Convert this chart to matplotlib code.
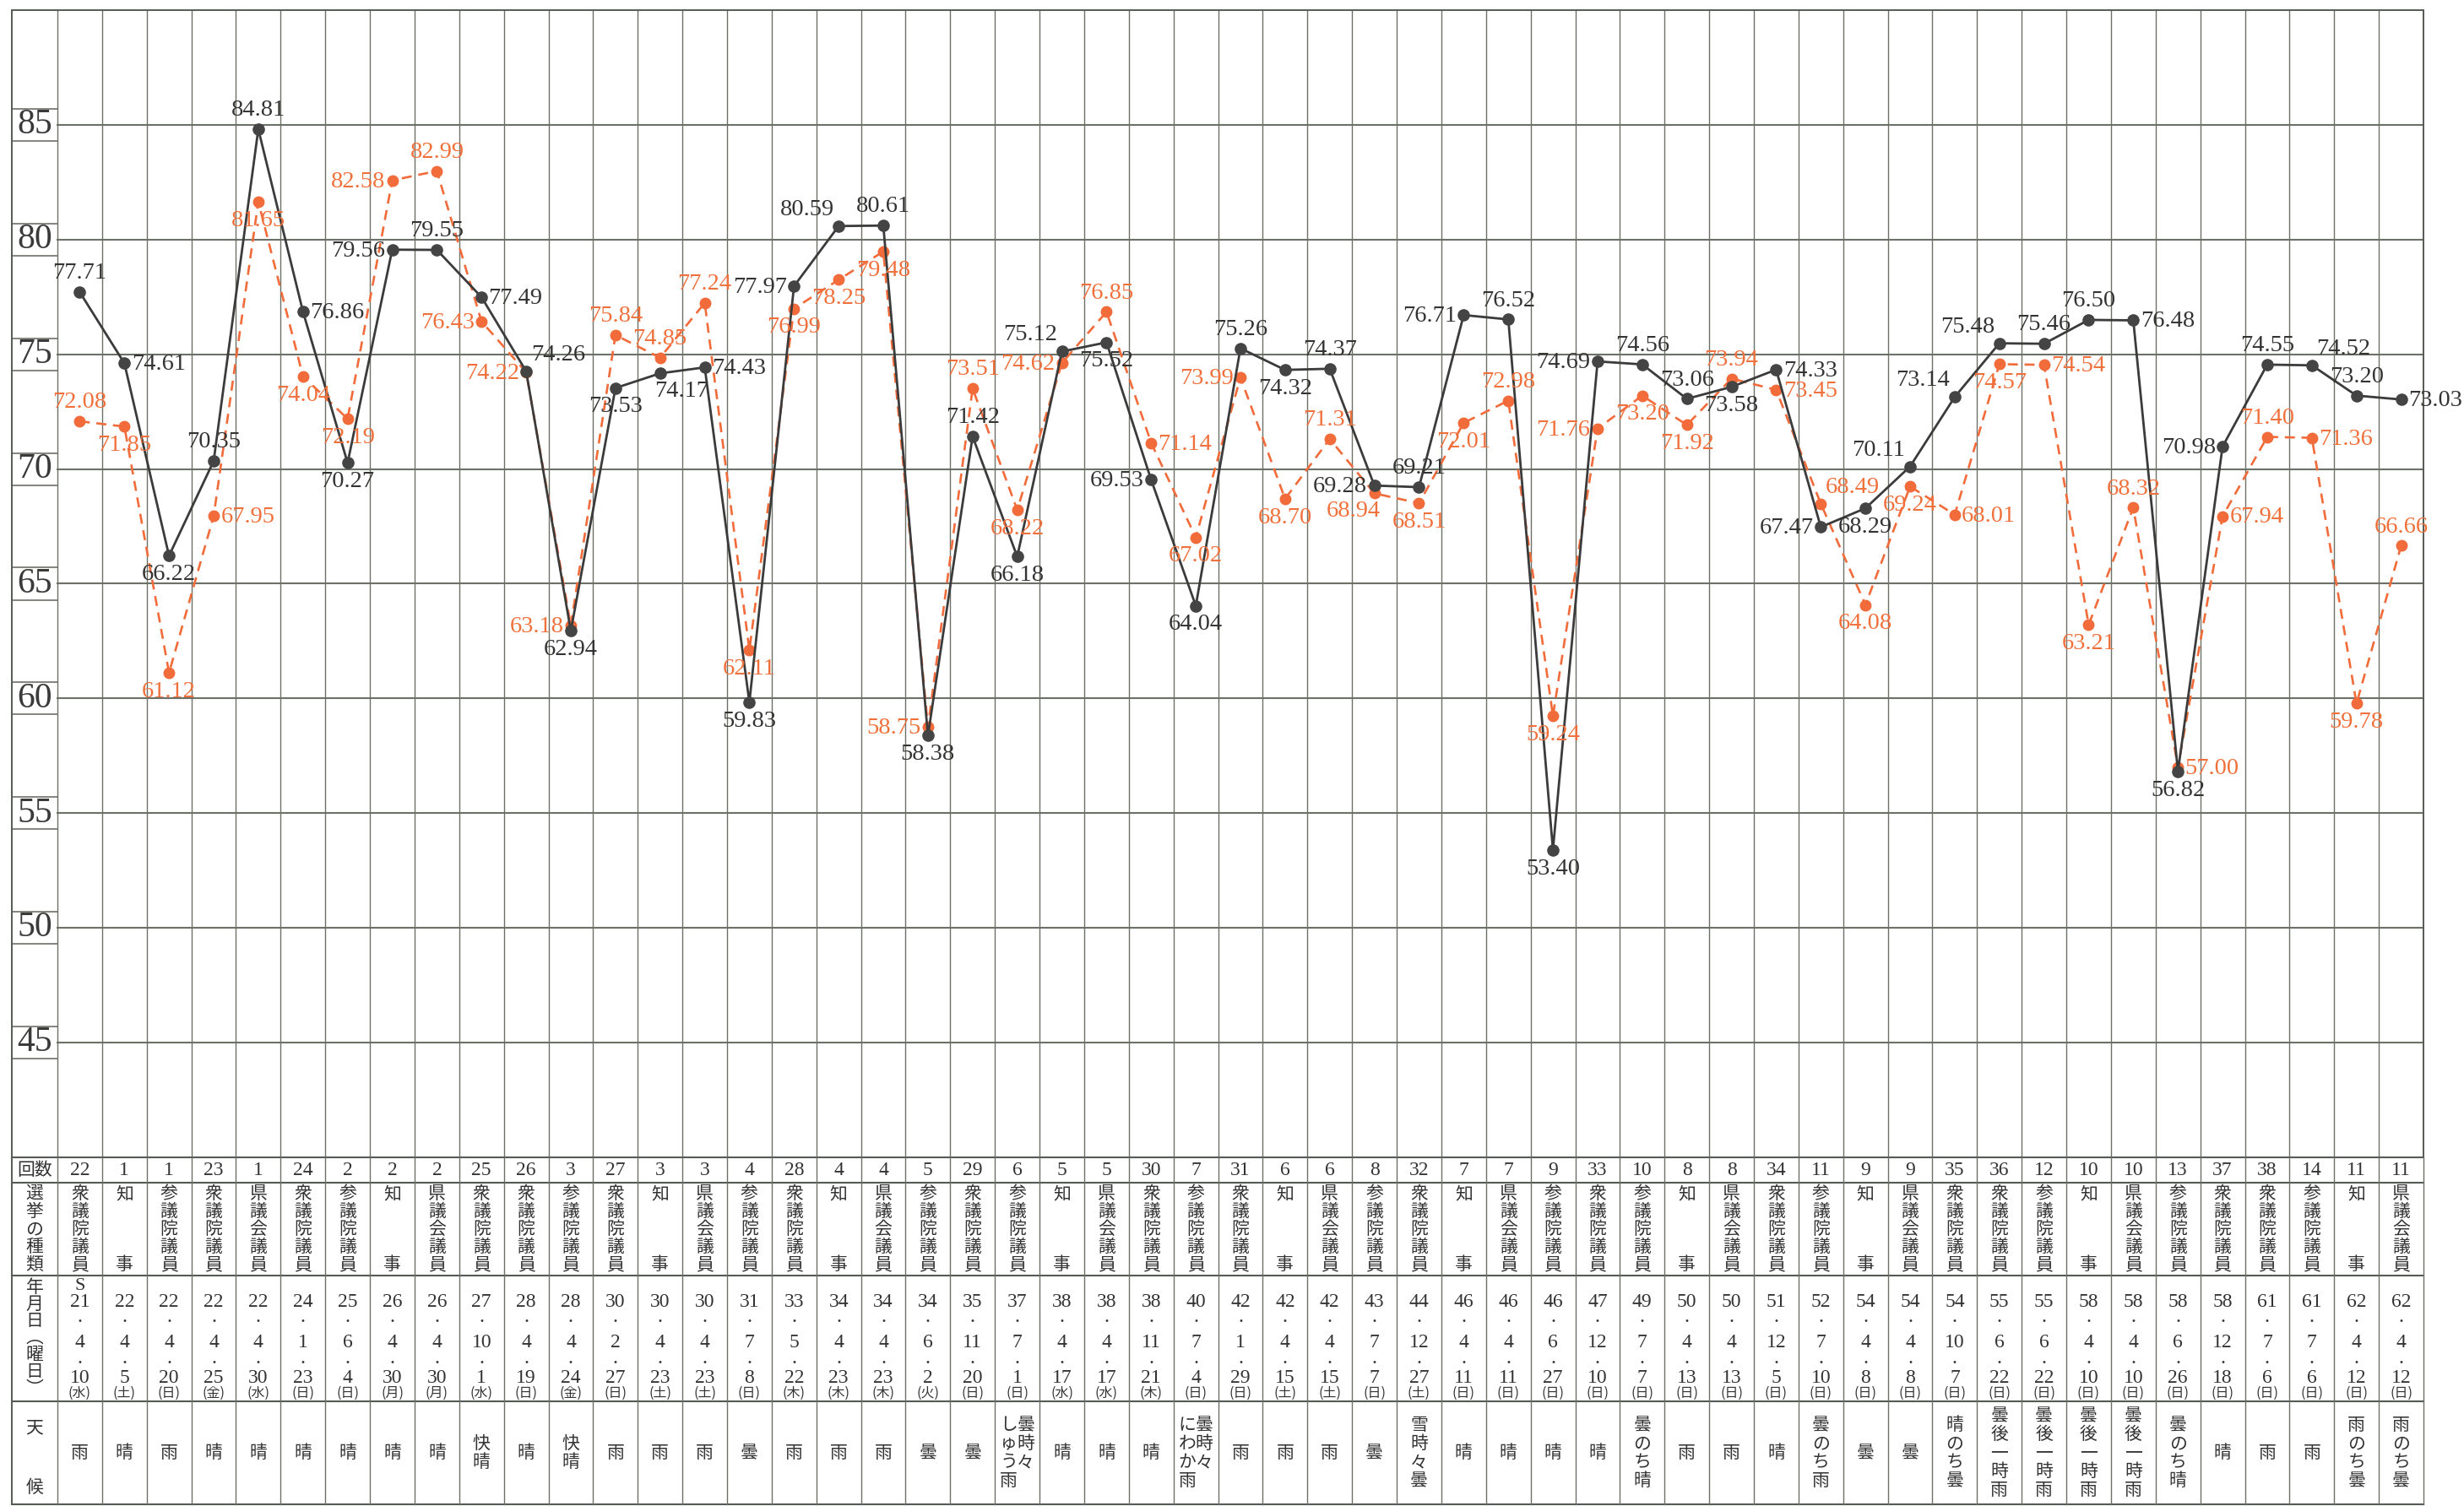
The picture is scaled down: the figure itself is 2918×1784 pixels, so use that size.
import matplotlib
matplotlib.use("Agg")
import matplotlib.pyplot as plt

# ---------------- data ----------------
counts = [22, 1, 1, 23, 1, 24, 2, 2, 2, 25, 26, 3, 27, 3, 3, 4, 28, 4, 4, 5, 29, 6, 5, 5, 30, 7, 31,
          6, 6, 8, 32, 7, 7, 9, 33, 10, 8, 8, 34, 11, 9, 9, 35, 36, 12, 10, 10, 13, 37, 38, 14, 11, 11]
kinds = ["衆", "知", "参", "衆", "県", "衆", "参", "知", "県", "衆", "衆", "参", "衆", "知", "県", "参", "衆",
         "知", "県", "参", "衆", "参", "知", "県", "衆", "参", "衆", "知", "県", "参", "衆", "知", "県", "参",
         "衆", "参", "知", "県", "衆", "参", "知", "県", "衆", "衆", "参", "知", "県", "参", "衆", "衆", "参",
         "知", "県"]
kind_names = {"衆": "衆議院議員", "参": "参議院議員", "知": "知事", "県": "県議会議員"}
years = ["21", "22", "22", "22", "22", "24", "25", "26", "26", "27", "28", "28", "30", "30", "30", "31",
         "33", "34", "34", "34", "35", "37", "38", "38", "38", "40", "42", "42", "42", "43", "44", "46",
         "46", "46", "47", "49", "50", "50", "51", "52", "54", "54", "54", "55", "55", "58", "58", "58",
         "58", "61", "61", "62", "62"]
months = ["4", "4", "4", "4", "4", "1", "6", "4", "4", "10", "4", "4", "2", "4", "4", "7", "5", "4", "4",
          "6", "11", "7", "4", "4", "11", "7", "1", "4", "4", "7", "12", "4", "4", "6", "12", "7", "4",
          "4", "12", "7", "4", "4", "10", "6", "6", "4", "4", "6", "12", "7", "7", "4", "4"]
days = ["10", "5", "20", "25", "30", "23", "4", "30", "30", "1", "19", "24", "27", "23", "23", "8", "22",
        "23", "23", "2", "20", "1", "17", "17", "21", "4", "29", "15", "15", "7", "27", "11", "11", "27",
        "10", "7", "13", "13", "5", "10", "8", "8", "7", "22", "22", "10", "10", "26", "18", "6", "6",
        "12", "12"]
weekdays = ["水", "土", "日", "金", "水", "日", "日", "月", "月", "水", "日", "金", "日", "土", "土", "日",
            "木", "木", "木", "火", "日", "日", "水", "水", "木", "日", "日", "土", "土", "日", "土", "日",
            "日", "日", "日", "日", "日", "日", "日", "日", "日", "日", "日", "日", "日", "日", "日", "日",
            "日", "日", "日", "日", "日"]
weather = ["雨", "晴", "雨", "晴", "晴", "晴", "晴", "晴", "晴", "快晴", "晴", "快晴", "雨", "雨", "雨", "曇",
           "雨", "雨", "雨", "曇", "曇", "曇時々|しゅう雨", "晴", "晴", "晴", "曇時々|にわか雨", "雨", "雨",
           "雨", "曇", "雪時々曇", "晴", "晴", "晴", "晴", "曇のち晴", "雨", "雨", "晴", "曇のち雨", "曇", "曇",
           "晴のち曇", "曇後一時雨", "曇後一時雨", "曇後一時雨", "曇後一時雨", "曇のち晴", "晴", "雨", "雨",
           "雨のち曇", "雨のち曇"]
black_vals = [77.71, 74.61, 66.22, 70.35, 84.81, 76.86, 70.27, 79.56, 79.55, 77.49, 74.26, 62.94, 73.53,
              74.17, 74.43, 59.83, 77.97, 80.59, 80.61, 58.38, 71.42, 66.18, 75.12, 75.52, 69.53, 64.04,
              75.26, 74.32, 74.37, 69.28, 69.21, 76.71, 76.52, 53.40, 74.69, 74.56, 73.06, 73.58, 74.33,
              67.47, 68.29, 70.11, 73.14, 75.48, 75.46, 76.50, 76.48, 56.82, 70.98, 74.55, 74.52, 73.20,
              73.03]
orange_vals = [72.08, 71.85, 61.12, 67.95, 81.65, 74.04, 72.19, 82.58, 82.99, 76.43, 74.22, 63.18, 75.84,
               74.85, 77.24, 62.11, 76.99, 78.25, 79.48, 58.75, 73.51, 68.22, 74.62, 76.85, 71.14, 67.02,
               73.99, 68.70, 71.31, 68.94, 68.51, 72.01, 72.98, 59.24, 71.76, 73.20, 71.92, 73.94, 73.45,
               68.49, 64.08, 69.24, 68.01, 74.57, 74.54, 63.21, 68.32, 57.00, 67.94, 71.40, 71.36, 59.78,
               66.66]
yticks = [45, 50, 55, 60, 65, 70, 75, 80, 85]

# label placement (style)
black_pos = ["a", "r", "b", "a", "a", "r", "b", "l", "a", "r",
             "ar", "b", "b", "br", "r", "b", "l", "al", "a", "b",
             "a", "b", "al", "b", "l", "b", "a", "b", "a", "l",
             "a", "l", "a", "b", "l", "a", "a", "b", "r", "l",
             "b", "al", "al", "al", "a", "a", "r", "b", "l", "a",
             "ar", "a", "r"]
orange_pos = ["a", "b", "b", "r", "b", "b", "b", "l", "a", "l",
              "l", "l", "a", "a", "a", "b", "b", "b", "b", "l",
              "a", "b", "l", "a", "r", "b", "l", "b", "a", "bl",
              "b", "b", "a", "b", "l", "b", "b", "a", "r", "ar",
              "b", "b", "r", "b", "r", "b", "a", "r", "r", "a",
              "r", "b", "a"]

# ---------------- style ----------------
NUM = "Liberation Serif"
JP = ["Noto Sans CJK JP", "DejaVu Sans"]
GRID = "#6c7168"
FRAME = "#555a55"
BLACK = "#3b3b3b"
ORANGE = "#f26b3a"
TXT = "#333333"

W, H = 2918, 1784
x_left, x_right = 14, 2870
y_top, y_chart_bot, y_bot = 12, 1371, 1782
n = len(black_vals)
colw = (x_right - 68) / n
lab_w = (68 - x_left) / colw
xmin = -0.5 - lab_w
xmax = n - 0.5

fig = plt.figure(figsize=(W / 100, H / 100), dpi=100)
fig.patch.set_facecolor("white")

ax = fig.add_axes([x_left / W, 1 - y_chart_bot / H, (x_right - x_left) / W, (y_chart_bot - y_top) / H])
ax.set_xlim(xmin, xmax)
ax.set_ylim(40, 90)
ax.set_xticks([])
ax.set_yticks([])
for s in ["top", "left", "right"]:
    ax.spines[s].set_color(FRAME)
    ax.spines[s].set_linewidth(1.4)
ax.spines["bottom"].set_visible(False)

# grid
for t in yticks:
    ax.plot([-0.5, xmax], [t, t], color=GRID, lw=1.5, zorder=1)
    for dy in (-0.7, 0.7):
        ax.plot([xmin, -0.5], [t + dy, t + dy], color=GRID, lw=1.2, zorder=1)
    ax.text((xmin - 0.5) / 2, t, str(t), ha="center", va="center", fontsize=30,
            family=NUM, color="#3a3a3a")
for k in range(n + 1):
    ax.plot([k - 0.5, k - 0.5], [40, 90], color=GRID, lw=1.0, zorder=1)

xs = list(range(n))
ax.plot(xs, orange_vals, color=ORANGE, lw=1.9, dashes=(4.5, 3), marker="o", ms=9,
        mfc=ORANGE, mec=ORANGE, zorder=3)
ax.plot(xs, black_vals, color=BLACK, lw=2.0, marker="o", ms=9.5, mfc="#444444",
        mec="#444444", zorder=4)

offs = {"a": ((0, 7), "center", "bottom"), "b": ((0, -7), "center", "top"),
        "l": ((-6, -1), "right", "center"), "r": ((6, -1), "left", "center"),
        "al": ((-4, 5), "right", "bottom"), "ar": ((4, 5), "left", "bottom"),
        "bl": ((5, -6), "right", "top"), "br": ((-5, -6), "left", "top")}


def put_labels(vals, pos, color):
    for i, (v, p) in enumerate(zip(vals, pos)):
        (dx, dy), ha, va = offs[p]
        ax.annotate(f"{v:.2f}", xy=(i, v), xytext=(dx, dy), textcoords="offset points",
                    ha=ha, va=va, fontsize=20.5, family=NUM, color=color, zorder=6,
                    annotation_clip=False)


put_labels(orange_vals, orange_pos, "#f0703c")
put_labels(black_vals, black_pos, TXT)

# ---------------- table ----------------
tab_h = y_bot - y_chart_bot
tb = fig.add_axes([x_left / W, 1 - y_bot / H, (x_right - x_left) / W, tab_h / H])
tb.set_xlim(xmin, xmax)
tb.set_ylim(tab_h, 0)
tb.axis("off")
rows = [0, 30, 140, 289, tab_h]
for r in rows:
    tb.plot([xmin, xmax], [r, r], color=FRAME, lw=1.5, clip_on=False)
for k in range(n + 1):
    tb.plot([k - 0.5, k - 0.5], [0, tab_h], color=GRID, lw=1.0, clip_on=False)
tb.plot([xmin, xmin], [0, tab_h], color=FRAME, lw=1.4, clip_on=False)

hx = (xmin - 0.5) / 2
JPS = 15


def vstack(x, chars, center, pitch, size=JPS, top=None):
    m = len(chars)
    start = center - (m - 1) / 2 * pitch if top is None else top
    for j, c in enumerate(chars):
        tb.text(x, start + j * pitch, c, ha="center", va="center", fontsize=size,
                family=JP, color="#333333")


# headers
tb.text(hx, 15, "回数", ha="center", va="center", fontsize=15, family=JP, color="#333333")
vstack(hx, "選挙の種類", 85, 21)
vstack(hx, "年月日︵曜日︶", 214, 20)
tb.text(hx, 320, "天", ha="center", va="center", fontsize=JPS, family=JP, color="#333333")
tb.text(hx, 391, "候", ha="center", va="center", fontsize=JPS, family=JP, color="#333333")

for i in range(n):
    tb.text(i, 15, str(counts[i]), ha="center", va="center", fontsize=17, family=NUM, color="#333333")
    name = kind_names[kinds[i]]
    if name == "知事":
        tb.text(i, 43, "知", ha="center", va="center", fontsize=JPS, family=JP, color="#333333")
        tb.text(i, 127, "事", ha="center", va="center", fontsize=JPS, family=JP, color="#333333")
    else:
        vstack(i, name, 85, 21)
    # date
    if i == 0:
        tb.text(i, 152, "S", ha="center", va="center", fontsize=16, family=NUM, color="#333333")
    tb.text(i, 172, years[i], ha="center", va="center", fontsize=17, family=NUM, color="#333333")
    tb.text(i, 195, "・", ha="center", va="center", fontsize=10, family=JP, color="#333333")
    tb.text(i, 220, months[i], ha="center", va="center", fontsize=17, family=NUM, color="#333333")
    tb.text(i, 244, "・", ha="center", va="center", fontsize=10, family=JP, color="#333333")
    tb.text(i, 261, days[i], ha="center", va="center", fontsize=17, family=NUM, color="#333333")
    tb.text(i, 279, f"({weekdays[i]})", ha="center", va="center", fontsize=11.5, family=JP,
            color="#333333")
    # weather
    w = weather[i]
    if "|" in w:
        right, left = w.split("|")
        m = max(len(right), len(left))
        top = 350 - (m - 1) / 2 * 22
        vstack(i + 0.19, right, 0, 22, top=top)
        vstack(i - 0.19, left, 0, 22, top=top)
    else:
        vstack(i, w, 350, 22)

fig.savefig("out.png", dpi=100, facecolor="white")
